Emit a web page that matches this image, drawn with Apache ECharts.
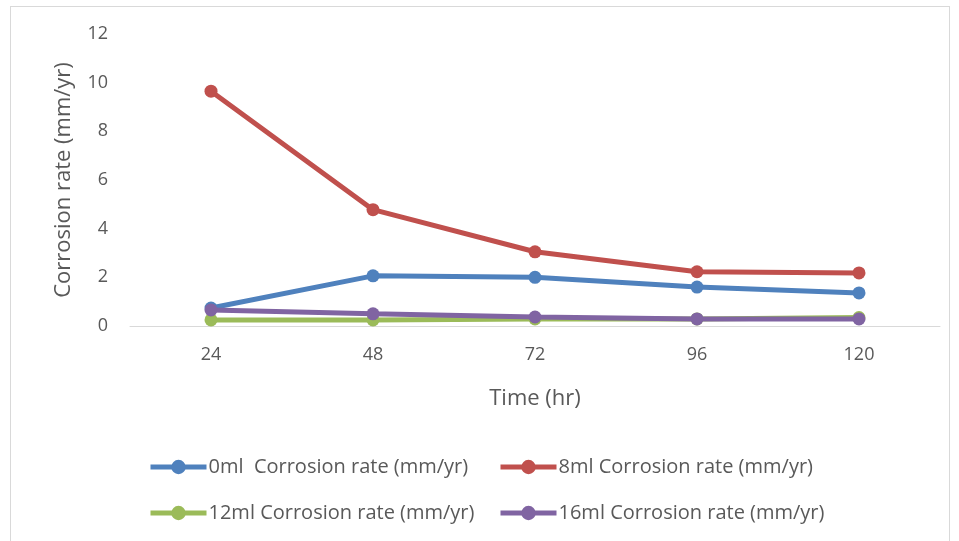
<!DOCTYPE html>
<html>
<head>
<meta charset="utf-8">
<script src="https://cdn.jsdelivr.net/npm/echarts@6/dist/echarts.min.js"></script>
<style>
  html, body { margin: 0; padding: 0; background: #fff; }
  #box { position: absolute; left: 10px; top: 6px; width: 940px; height: 540px; border: 1px solid #d9d9d9; box-sizing: border-box; }
  #chart { position: absolute; left: 0; top: 0; width: 959px; height: 541px; }
</style>
</head>
<body>
<div id="box"></div>
<div id="chart"></div>
<script>
var categories = ['24', '48', '72', '96', '120'];
var names = ['0ml  Corrosion rate (mm/yr)', '8ml Corrosion rate (mm/yr)', '12ml Corrosion rate (mm/yr)', '16ml Corrosion rate (mm/yr)'];
var ml0 = [0.74, 2.06, 2.0, 1.6, 1.36];
var ml8 = [9.65, 4.78, 3.05, 2.23, 2.18];
var ml12 = [0.25, 0.25, 0.29, 0.29, 0.35];
var ml16 = [0.66, 0.5, 0.37, 0.29, 0.29];
var colors = ['#4f81bd', '#c0504d', '#9bbb59', '#8064a2'];

var font = 'Open Sans, Liberation Sans, sans-serif';
var txt = '#595959';

function mkLegend(name, left, top) {
  return {
    data: [name],
    left: left, top: top,
    itemWidth: 56, itemHeight: 18,
    itemGap: 6,
    lineStyle: { width: 5 },
    textStyle: { color: txt, fontSize: 20, fontFamily: font, padding: [0, 0, 0, -3] }
  };
}

function mkSeries(i, data) {
  return {
    name: names[i],
    type: 'line',
    data: data,
    symbol: 'circle',
    symbolSize: 13,
    z: i === 2 ? 2 : 3 + i,
    lineStyle: { width: 5, color: colors[i] },
    itemStyle: { color: colors[i] }
  };
}

window.onload = function(){
  var myChart = echarts.init(document.querySelector('#chart'));
  myChart.setOption({
    animation: false,
    legend: [
      mkLegend(names[0], 143, 452),
      mkLegend(names[1], 493, 452),
      mkLegend(names[2], 143, 498),
      mkLegend(names[3], 493, 498)
    ],
    grid: { left: 130, right: 19, top: 34, bottom: 215, containLabel: false },
    xAxis: {
      type: 'category',
      data: categories,
      boundaryGap: true,
      name: 'Time (hr)',
      nameLocation: 'middle',
      nameGap: 62,
      nameTextStyle: { color: txt, fontSize: 22, fontFamily: font },
      axisLine: { lineStyle: { color: '#d9d9d9', width: 1 } },
      axisTick: { show: false },
      axisLabel: { color: txt, fontSize: 18, fontFamily: font, margin: 20 }
    },
    yAxis: {
      type: 'value',
      min: 0, max: 12, interval: 2,
      name: 'Corrosion rate (mm/yr)',
      nameLocation: 'middle',
      nameGap: 55,
      nameTextStyle: { color: txt, fontSize: 22, fontFamily: font },
      splitLine: { show: false },
      axisLine: { show: false },
      axisTick: { show: false },
      axisLabel: { color: txt, fontSize: 18, fontFamily: font, margin: 22 }
    },
    series: [
      mkSeries(0, ml0),
      mkSeries(1, ml8),
      mkSeries(2, ml12),
      mkSeries(3, ml16)
    ]
  });
};
</script>
</body>
</html>
